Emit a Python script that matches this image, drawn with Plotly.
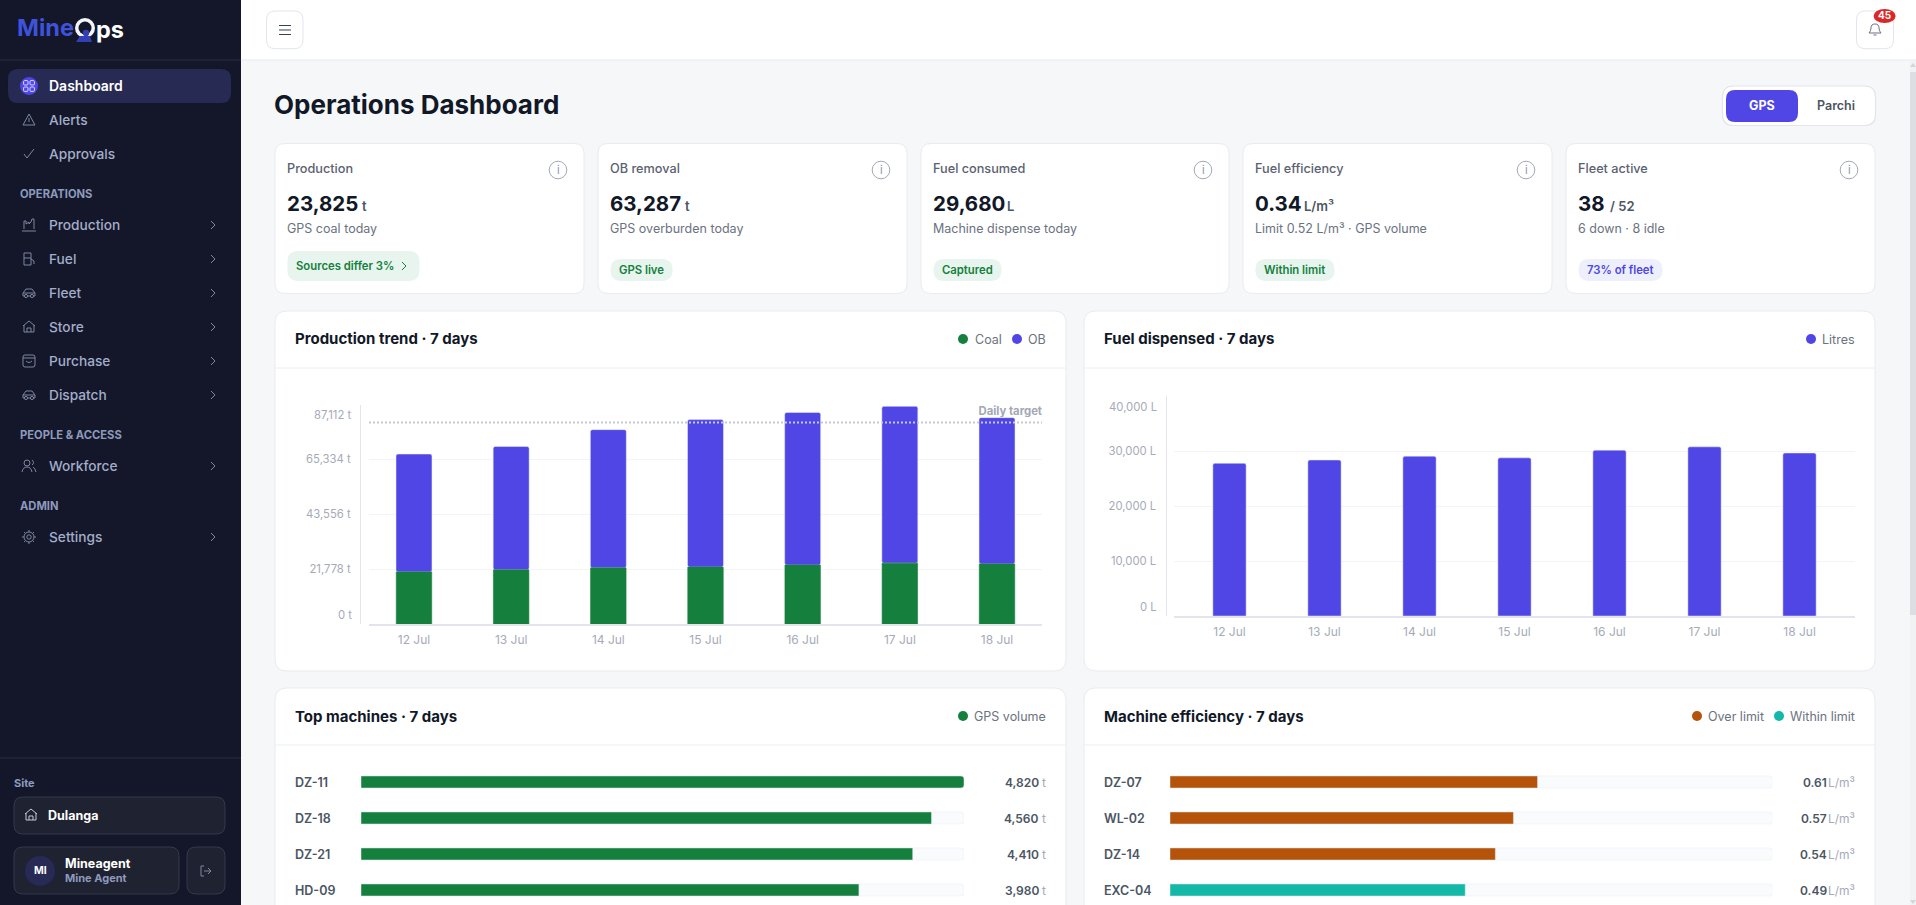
import re
import math
import plotly.graph_objects as go

W, H = 1916, 905

# chart values
days = ["12 Jul", "13 Jul", "14 Jul", "15 Jul", "16 Jul", "17 Jul", "18 Jul"]
coal = [20700, 21500, 22300, 22600, 23400, 24150, 23825]
ob = [46800, 49000, 54900, 58600, 60600, 62300, 58150]
prod_ticks = [0, 21778, 43556, 65334, 87112]
prod_labels = ["0 t", "21,778 t", "43,556 t", "65,334 t", "87,112 t"]
daily_target = 80000
litres = [27800, 28400, 29100, 28800, 30200, 30800, 29680]
fuel_ticks = [0, 10000, 20000, 30000, 40000]
fuel_labels = ["0 L", "10,000 L", "20,000 L", "30,000 L", "40,000 L"]
top_names = ["DZ-11", "DZ-18", "DZ-21", "HD-09"]
top_volume = [4820, 4560, 4410, 3980]
eff_names = ["DZ-07", "WL-02", "DZ-14", "EXC-04"]
eff_values = [0.61, 0.57, 0.54, 0.49]
eff_limit = 0.52

# KPI cards: left edge, label, value, unit, sub text, pill
kpi_x = [275, 598, 921, 1243, 1566]
kpi_w = [309, 309, 308, 309, 309]
kpi_label = ["Production", "OB removal", "Fuel consumed", "Fuel efficiency", "Fleet active"]
kpi_value = ["23,825", "63,287", "29,680", "0.34", "38"]
kpi_unit = ["t", "t", "L", "L/m³", "/ 52"]
kpi_unit_x = [363, 686, 1008, 1305, 1611]
kpi_sub = ["GPS coal today", "GPS overburden today", "Machine dispense today",
           "Limit 0.52 L/m³ · GPS volume", "6 down · 8 idle"]
kpi_pill = ["Sources differ 3%", "GPS live", "Captured", "Within limit", "73% of fleet"]
kpi_pill_w = [132, 62, 68, 79, 84]

nav_top = [("Alerts", 120, "alert"), ("Approvals", 154, "check")]
nav_groups = [("Production", 225, "factory"), ("Fuel", 259, "fuel"), ("Fleet", 293, "car"),
              ("Store", 327, "home"), ("Purchase", 361, "bag"), ("Dispatch", 395, "car"),
              ("Workforce", 466, "users"), ("Settings", 537, "gear")]
nav_sections = [("OPERATIONS", 194), ("PEOPLE & ACCESS", 435), ("ADMIN", 506)]

INDIGO = "#4f46e5"
GREEN = "#15803d"
ORANGE = "#b45309"
TEAL = "#14b8a6"
SIDE = "#131729"
BORDER = "#e9ebf0"
TICK = "#a6aab8"
INK = "#111827"
MUTED = "#6b7280"
NAV = "#a4adc9"
NAVICON = "#7f87a1"
FONT = "Inter"

shapes = []
notes = []


def fx(x):
    return x / W


def fy(y):
    return 1 - y / H


def path(d, fill=None, line=None, lw=1, layer="below"):
    # d is written in page pixels, converted here to paper fractions
    res, i = [], 0
    for tok in re.findall(r"[MLQCZ]|-?\d+\.?\d*", d):
        if tok in "MLQCZ":
            res.append(tok)
        else:
            res.append(f"{fx(float(tok)):.6f}" if i % 2 == 0 else f"{fy(float(tok)):.6f}")
            i += 1
    shapes.append(dict(type="path", xref="paper", yref="paper", path=" ".join(res), layer=layer,
                       fillcolor=fill or "rgba(0,0,0,0)",
                       line=dict(color=line or "rgba(0,0,0,0)", width=lw if line else 0)))


def box(x0, y0, x1, y1, r=0, fill=None, line=None, lw=1, layer="below"):
    d = (f"M {x0+r} {y0} L {x1-r} {y0} Q {x1} {y0} {x1} {y0+r} L {x1} {y1-r} Q {x1} {y1} {x1-r} {y1} "
         f"L {x0+r} {y1} Q {x0} {y1} {x0} {y1-r} L {x0} {y0+r} Q {x0} {y0} {x0+r} {y0} Z")
    path(d, fill, line, lw, layer)


def circle(cx, cy, r, fill=None, line=None, lw=1, ry=None):
    ry = ry or r
    shapes.append(dict(type="circle", xref="paper", yref="paper", layer="below",
                       x0=fx(cx - r), x1=fx(cx + r), y0=fy(cy + ry), y1=fy(cy - ry),
                       fillcolor=fill or "rgba(0,0,0,0)",
                       line=dict(color=line or "rgba(0,0,0,0)", width=lw if line else 0)))


def text(x, y, s, size=13, color=INK, weight=400, anchor="left", **kw):
    # annotations sit about a pixel low and to the right of the given spot
    notes.append(dict(x=fx(x - 1 if anchor == "left" else x), y=fy(y - 0.8), xref="paper", yref="paper", text=s,
                      showarrow=False, xanchor=anchor, yanchor="middle", borderpad=0, borderwidth=0,
                      font=dict(family=FONT, size=size, color=color, weight=weight), **kw))


def chevron(x, y, color=NAVICON):
    path(f"M {x-2} {y-4} L {x+2} {y} L {x-2} {y+4}", line=color, lw=1)


def icon(kind, x, y, c=NAVICON):
    if kind == "alert":
        path(f"M {x} {y-6} L {x+6} {y+5} L {x-6} {y+5} Z M {x} {y-2} L {x} {y+2}", line=c)
    elif kind == "check":
        path(f"M {x-5} {y} L {x-2} {y+4} L {x+5} {y-5}", line=c)
    elif kind == "factory":
        path(f"M {x-5} {y+4} L {x-5} {y-4} L {x-3} {y-4} L {x-3} {y-1} L {x} {y-3} L {x} {y-1} "
             f"L {x+2} {y-3} L {x+3} {y-6} L {x+5} {y-6} L {x+5} {y+4} M {x-7} {y+6} L {x+7} {y+6}", line=c)
    elif kind == "fuel":
        path(f"M {x-5} {y+6} L {x-5} {y-6} L {x+2} {y-6} L {x+2} {y+6} Z M {x-5} {y-1} L {x+2} {y-1} "
             f"M {x+2} {y} L {x+5} {y+2} L {x+5} {y+5}", line=c)
    elif kind == "car":
        path(f"M {x-6} {y+3} L {x-6} {y} L {x-3} {y-4} L {x+3} {y-4} L {x+6} {y} L {x+6} {y+3} Z "
             f"M {x-6} {y} L {x+6} {y}", line=c)
        circle(x - 3, y + 3, 1.6, SIDE, c)
        circle(x + 3, y + 3, 1.6, SIDE, c)
    elif kind == "home":
        path(f"M {x-6} {y-1} L {x} {y-6} L {x+6} {y-1} M {x-5} {y-2} L {x-5} {y+5} L {x+5} {y+5} "
             f"L {x+5} {y-2} M {x-2} {y+5} L {x-2} {y+1} L {x+2} {y+1} L {x+2} {y+5}", line=c)
    elif kind == "bag":
        box(x - 6, y - 6, x + 6, y + 6, 2, line=c)
        path(f"M {x-6} {y-3} L {x+6} {y-3} M {x-3} {y} Q {x} {y+3} {x+3} {y}", line=c)
    elif kind == "users":
        circle(x - 2, y - 3, 3, line=c)
        path(f"M {x-7} {y+6} Q {x-6} {y+1} {x-2} {y+1} Q {x+2} {y+1} {x+3} {y+6} "
             f"M {x+3} {y-6} Q {x+6} {y-3} {x+3} {y-1} M {x+4} {y+1} Q {x+6} {y+2} {x+7} {y+6}", line=c)
    elif kind == "gear":
        circle(x, y, 2.2, line=c)
        circle(x, y, 5, line=c)
        teeth = ""
        for k in range(8):
            a = k * math.pi / 4
            teeth += (f"M {x+5*math.cos(a):.2f} {y+5*math.sin(a):.2f} "
                      f"L {x+7*math.cos(a):.2f} {y+7*math.sin(a):.2f} ")
        path(teeth, line=c)


# page frame
box(241, 0, W, 60, 0, fill="#ffffff")
path(f"M 241 60 L {W} 60", line="#e8eaee")
box(0, 0, 241, H, 0, fill=SIDE)
path("M 0 60 L 241 60", line="#2a2e42")
path("M 0 758 L 241 758", line="#2a2e42")
box(1910, 60, W, H, 0, fill="#f1f2f4")
box(1910, 72, W, 615, 0, fill="#dcdee3")
path("M 1913 63 L 1916 67 L 1910 67 Z", fill="#d3d5da")
path("M 1913 904 L 1916 900 L 1910 900 Z", fill="#d3d5da")

# sidebar
text(18, 28.5, "Mine", 23.5, "#3f52dc", 700)
circle(85, 28, 10, "#f4f5f8")
circle(85, 28, 6.5, SIDE)
circle(86, 33, 3.2, "#3340b5")
path("M 76 42 L 92 42 L 90 36 L 80 36 Z", fill="#3340b5")
text(96.5, 30, "ps", 23.5, "#ffffff", 700)
box(8, 69, 231, 103, 10, fill="#272a52")
circle(29, 86, 9, INDIGO)
for dx in (-3.2, 3.2):
    for dy in (-3.2, 3.2):
        box(29 + dx - 2.2, 86 + dy - 2.2, 29 + dx + 2.2, 86 + dy + 2.2, 1, line="#d7d8ff")
text(50, 86, "Dashboard", 14, "#ffffff", 600)
for name, y, ic in nav_top:
    text(50, y + 0.8, name, 13.7, NAV, 500)
    icon(ic, 29, y)
for name, y, ic in nav_groups:
    text(50, y + 0.8, name, 13.7, NAV, 500)
    icon(ic, 29, y)
    chevron(213, y)
for name, y in nav_sections:
    text(21, y + 0.8, name, 11.2, "#8e9abd", 700)
text(15, 783.8, "Site", 11, "#8e9abd", 700)
box(14, 797, 225, 834, 9, fill="#1f2231", line="#34384b")
icon("home", 31, 815, "#c8ccd8")
text(49, 816, "Dulanga", 12.5, "#ffffff", 700)
box(14, 847, 179, 894, 9, fill="#1f2231", line="#34384b")
circle(40, 871, 15, "#262a55")
text(40, 871.5, "MI", 10.5, "#ffffff", 700, anchor="center")
text(66, 864.5, "Mineagent", 12.5, "#ffffff", 700)
text(66, 878.5, "Mine Agent", 11, "#8e9abd", 700)
box(187, 847, 225, 894, 9, fill="#1f2231", line="#34384b")
path("M 204 866 L 201 866 L 201 876 L 204 876 M 204 871 L 211 871 M 208 868 L 211 871 L 208 874", line=NAVICON)

# header
box(266.5, 11, 303, 48.7, 9, fill="#ffffff", line="#e3e5ea")
path("M 279 30 L 291 30 M 279 25.5 L 291 25.5 M 279 34.5 L 291 34.5", line="#374151", lw=1)
box(1856.5, 11, 1893.5, 48.7, 9, fill="#ffffff", line="#e3e5ea")
path("M 1869 33 Q 1871 31 1871 28 Q 1871 24 1875 24 Q 1879 24 1879 28 Q 1879 31 1881 33 Z M 1873.5 35 L 1876.5 35",
     line="#6b7280")
circle(1884.6, 16, 11, "#dc2626", ry=7)
text(1884.6, 16.3, "45", 10, "#ffffff", 700, anchor="center")

text(274.5, 105.6, "Operations Dashboard", 26, INK, 700)
box(1722.5, 86, 1875.5, 125.5, 11, fill="#ffffff", line="#e3e5ea", lw=1.2)
box(1726, 90, 1798, 122, 9, fill=INDIGO)
text(1762, 106.5, "GPS", 12.5, "#ffffff", 700, anchor="center")
text(1836, 106.5, "Parchi", 12.5, "#4b5563", 600, anchor="center")

# KPI cards
for i, x in enumerate(kpi_x):
    box(x, 143.5, x + kpi_w[i], 293.5, 10, fill="#ffffff", line=BORDER)
    tx = x + 12.5
    text(tx, 169.5, kpi_label[i], 12.7, "#5b6170", 500)
    text(tx, 204, kpi_value[i], 20.5, INK, 700)
    text(kpi_unit_x[i], 206.5, kpi_unit[i], 13, "#4b5563", 600)
    text(tx, 229.5, kpi_sub[i], 12.5, MUTED, 400)
    circle(x + kpi_w[i] - 26, 170, 8.8, line="#a3a8b8")
    text(x + kpi_w[i] - 26, 170.5, "i", 11, "#8f94a6", 400, anchor="center")
    pill_bg, pill_fg = ("#eeeffd", INDIGO) if i == 4 else ("#e7f5ee", GREEN)
    top = 251 if i == 0 else 259
    box(tx, top, tx + kpi_pill_w[i], 281, 11, fill=pill_bg)
    text(tx + 9, (top + 281) / 2 + 0.5, kpi_pill[i], 11.3, pill_fg, 600)
chevron(404, 266, GREEN)

# chart cards
for x0, x1, y0, y1, head, title, ty in [
    (275, 1066, 311, 671, 368, "Production trend · 7 days", 339.5),
    (1084, 1875, 311, 671, 368, "Fuel dispensed · 7 days", 339.5),
    (275, 1066, 688, 920, 745, "Top machines · 7 days", 717.5),
    (1084, 1875, 688, 920, 745, "Machine efficiency · 7 days", 717.5),
]:
    box(x0, y0, x1, y1, 12, fill="#ffffff", line=BORDER)
    path(f"M {x0} {head} L {x1} {head}", line="#eceef2")
    text(x0 + 20.5, ty, title, 15, INK, 650)

# legends
for cx, tx, c, lab, y in [
    (963, 975.5, GREEN, "Coal", 339), (1017, 1029, INDIGO, "OB", 339),
    (1811, 1823, INDIGO, "Litres", 339),
    (963, 974.5, GREEN, "GPS volume", 716),
    (1697, 1708.5, ORANGE, "Over limit", 716), (1779, 1790.5, TEAL, "Within limit", 716),
]:
    circle(cx, y, 5, c)
    text(tx, y + 0.8, lab, 12.5, MUTED)

fig = go.Figure()
fig.add_trace(go.Bar(x=days, y=ob, base=coal, marker=dict(color=INDIGO, cornerradius=2), width=0.37,
                     xaxis="x", yaxis="y", showlegend=False))
# thin outline closes the hairline between the two stacked parts
fig.add_trace(go.Bar(x=days, y=coal, marker=dict(color=GREEN, line=dict(color=GREEN, width=0.6)), width=0.365,
                     xaxis="x", yaxis="y", showlegend=False))
fig.add_trace(go.Bar(x=days, y=litres, marker=dict(color=INDIGO, cornerradius=2), width=0.35,
                     xaxis="x2", yaxis="y2", showlegend=False))

top_max = max(top_volume)
fig.add_trace(go.Bar(y=top_names, x=[top_max] * len(top_names), orientation="h", width=0.334,
                     marker=dict(color="#fafbfd", cornerradius=3), xaxis="x3", yaxis="y3", showlegend=False))
fig.add_trace(go.Bar(y=top_names, x=top_volume, orientation="h", width=0.334,
                     marker=dict(color=GREEN, cornerradius=3), xaxis="x3", yaxis="y3", showlegend=False))
fig.add_trace(go.Bar(y=eff_names, x=[1] * len(eff_names), orientation="h", width=0.334,
                     marker=dict(color="#fafbfd", cornerradius=3), xaxis="x4", yaxis="y4", showlegend=False))
fig.add_trace(go.Bar(y=eff_names, x=eff_values, orientation="h", width=0.334,
                     marker=dict(color=[ORANGE if v > eff_limit else TEAL for v in eff_values], cornerradius=3),
                     xaxis="x4", yaxis="y4", showlegend=False))


def col_axes(x0, x1, y0, y1, ax_x, ticks, labels, pad, anchor):
    # y labels at both ends sit inside the plot height, the axis has no way to do this itself
    xa = dict(domain=[fx(x0), fx(x1)], range=[-pad, 6 + pad], type="category", anchor=anchor,
              showgrid=False, showline=True, linecolor="#e3e5ea", linewidth=1.5, ticks="",
              tickfont=dict(family=FONT, size=12, color=TICK), ticklabelstandoff=4, zeroline=False)
    ya = dict(domain=[fy(y1), fy(y0)], range=[ticks[0], ticks[-1]], anchor="free", position=fx(ax_x),
              showgrid=True, gridcolor="#f3f4f6", gridwidth=1, zeroline=False, showline=True,
              linecolor="#e3e5ea", linewidth=1, ticks="", tickmode="array", tickvals=ticks,
              ticktext=[""] + labels[1:-1] + [""], ticklabelstandoff=7,
              tickfont=dict(family=FONT, size=11.3, color=TICK))
    return xa, ya


xa, ya = col_axes(369, 1042, 404.7, 624, 360, prod_ticks, prod_labels, 0.463, "y")
xa2, ya2 = col_axes(1174, 1855, 396.3, 616, 1165.5, fuel_ticks, fuel_labels, 0.584, "y2")
text(351.5, 416, prod_labels[-1], 11.3, TICK, anchor="right")
text(351.5, 616, prod_labels[0], 11.3, TICK, anchor="right")
text(1156.5, 408, fuel_labels[-1], 11.3, TICK, anchor="right")
text(1156.5, 608, fuel_labels[0], 11.3, TICK, anchor="right")

text(1042, 411.5, "Daily target", 11.3, "#a3a8b6", 700, anchor="right", width=70, height=13,
     align="right", bgcolor="#ffffff")
shapes.append(dict(type="line", xref="x domain", yref="y", x0=0, x1=1, y0=daily_target, y1=daily_target,
                   line=dict(color="#c6cad4", width=2, dash="2px,2px"), layer="above"))


def bar_axes(x0, x1, xmax, anchor):
    xa = dict(domain=[fx(x0), fx(x1)], range=[0, xmax], anchor=anchor, visible=False)
    # rows are 36 px apart, the fourth row is the last one in view
    ya = dict(domain=[0, fy(764)], range=[(H - 764) / 36 - 0.5, -0.5], type="category",
              anchor="free", position=0, visible=False)
    return xa, ya


xa3, ya3 = bar_axes(361, 964, top_max, "y3")
xa4, ya4 = bar_axes(1170, 1772.5, 1, "y4")


def row_text(s, x, axis, cat, size, color, weight, anchor):
    notes.append(dict(x=fx(x), xref="paper", y=cat, yref=axis, text=s, showarrow=False, xanchor=anchor,
                      yanchor="middle", borderpad=0, borderwidth=0,
                      font=dict(family=FONT, size=size, color=color, weight=weight)))


for name, v in zip(top_names, top_volume):
    row_text(name, 294.5, "y3", name, 12.5, "#4b5563", 600, "left")
    row_text(f"{v:,}", 1039, "y3", name, 12, "#4b5563", 600, "right")
    row_text("t", 1046, "y3", name, 12, TICK, 400, "right")
for name, v in zip(eff_names, eff_values):
    row_text(name, 1103.5, "y4", name, 12.5, "#4b5563", 600, "left")
    row_text(f"{v:.2f}", 1826.5, "y4", name, 12, "#4b5563", 600, "right")
    row_text("L/m³", 1855, "y4", name, 12, TICK, 400, "right")

fig.update_layout(
    width=W, height=H, autosize=False, margin=dict(l=0, r=0, t=0, b=0, pad=0),
    paper_bgcolor="#f6f7f9", plot_bgcolor="rgba(0,0,0,0)", barmode="overlay", showlegend=False,
    font=dict(family=FONT), shapes=shapes, annotations=notes,
    xaxis=xa, yaxis=ya, xaxis2=xa2, yaxis2=ya2, xaxis3=xa3, yaxis3=ya3, xaxis4=xa4, yaxis4=ya4,
)

fig.write_html("out.html", config={"displayModeBar": False},
               post_script="document.body.style.margin='0';document.body.style.overflow='hidden';")
